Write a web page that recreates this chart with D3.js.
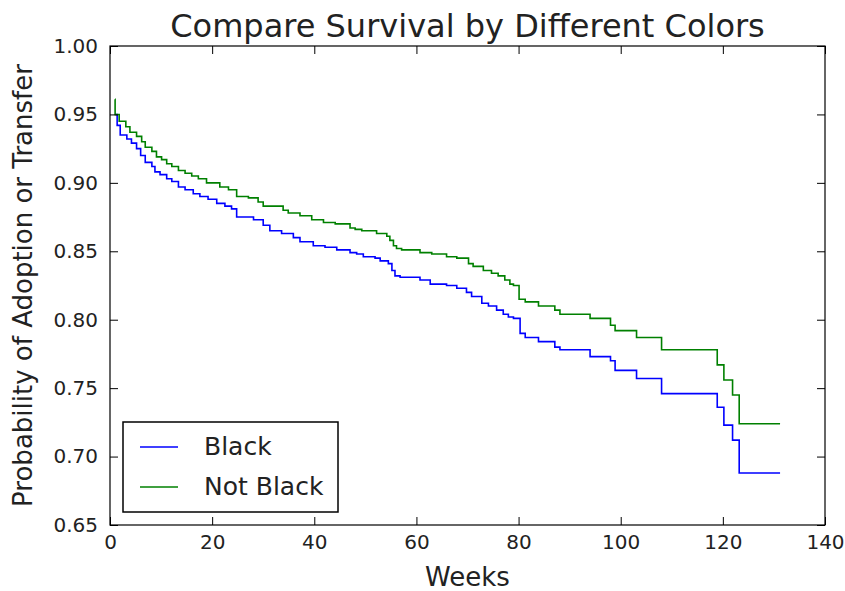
<!DOCTYPE html>
<html>
<head>
<meta charset="utf-8">
<script src="https://cdn.jsdelivr.net/npm/d3@7"></script>
<style>
  body { margin: 0; background: #fff; }
  svg { display: block; font-family: "DejaVu Sans", sans-serif; }
</style>
</head>
<body>
<div id="chart"></div>
<script>
// survival curves (weeks, probability)
var blackWeeks = [1.0, 1.4, 2.0, 3.3, 4.2, 5.2, 6.0, 6.9, 8.2, 8.8, 9.8, 11.1, 12.1, 13.4, 14.7, 16.3, 17.6, 19.2, 20.9, 22.5, 23.8, 24.8, 28.1, 30.0, 31.3, 33.6, 35.9, 37.2, 39.8, 42.1, 44.4, 47.0, 48.3, 49.6, 51.9, 52.9, 54.5, 55.2, 55.8, 56.8, 60.7, 62.7, 65.9, 67.9, 69.8, 70.8, 72.8, 74.1, 75.7, 77.0, 78.0, 79.0, 80.3, 81.3, 83.9, 87.1, 88.1, 94.0, 98.0, 98.9, 103.1, 108.0, 118.9, 120.2, 121.9, 123.2, 131.2];
var blackSurv  = [0.950, 0.942, 0.935, 0.932, 0.929, 0.925, 0.920, 0.915, 0.912, 0.908, 0.906, 0.903, 0.901, 0.897, 0.895, 0.892, 0.890, 0.888, 0.885, 0.883, 0.881, 0.875, 0.873, 0.869, 0.865, 0.863, 0.860, 0.857, 0.854, 0.853, 0.851, 0.849, 0.848, 0.846, 0.845, 0.843, 0.841, 0.836, 0.832, 0.831, 0.829, 0.826, 0.825, 0.823, 0.820, 0.817, 0.812, 0.810, 0.807, 0.804, 0.802, 0.801, 0.790, 0.787, 0.784, 0.780, 0.778, 0.773, 0.770, 0.763, 0.757, 0.746, 0.736, 0.723, 0.712, 0.688, 0.688];

var notBlackWeeks = [0.98, 1.0, 1.8, 3.1, 3.9, 5.2, 6.2, 6.9, 8.2, 9.1, 10.1, 11.1, 12.1, 13.4, 14.7, 16.0, 17.3, 18.9, 21.5, 23.2, 24.8, 27.1, 29.0, 30.0, 33.9, 34.9, 37.2, 39.5, 41.8, 44.1, 47.0, 48.0, 49.3, 52.2, 54.2, 54.8, 55.5, 56.1, 57.1, 60.7, 63.0, 65.9, 67.9, 70.2, 71.1, 73.1, 74.7, 76.0, 77.3, 78.3, 79.0, 80.1, 81.3, 83.9, 87.1, 88.1, 94.0, 98.0, 98.9, 103.1, 108.0, 118.9, 120.2, 121.9, 123.2, 131.2];
var notBlackSurv  = [0.961, 0.950, 0.945, 0.941, 0.937, 0.934, 0.930, 0.926, 0.923, 0.919, 0.917, 0.914, 0.912, 0.909, 0.907, 0.905, 0.903, 0.900, 0.897, 0.895, 0.890, 0.889, 0.886, 0.883, 0.880, 0.878, 0.876, 0.873, 0.871, 0.870, 0.867, 0.866, 0.865, 0.863, 0.861, 0.858, 0.854, 0.852, 0.851, 0.849, 0.848, 0.846, 0.845, 0.841, 0.839, 0.836, 0.834, 0.832, 0.829, 0.826, 0.825, 0.815, 0.813, 0.810, 0.807, 0.804, 0.801, 0.796, 0.792, 0.787, 0.778, 0.767, 0.756, 0.745, 0.724, 0.724];

var seriesNames = ["Black", "Not Black"];
var seriesColors = ["#0000ff", "#008000"];
var xTicks = [0, 20, 40, 60, 80, 100, 120, 140];
var yTicks = [0.65, 0.70, 0.75, 0.80, 0.85, 0.90, 0.95, 1.00];

var width = 845, height = 591;
var margin = {top: 46, right: 20, bottom: 66, left: 110};

var svg = d3.select("#chart").append("svg")
  .attr("width", width).attr("height", height);

var x = d3.scaleLinear().domain([0, 140]).range([margin.left, width - margin.right]);
var y = d3.scaleLinear().domain([0.65, 1.00]).range([height - margin.bottom, margin.top]);

//courbes en escalier
function toPoints(w, s) { return w.map(function(d, i) { return [d, s[i]]; }); }
var series = [toPoints(blackWeeks, blackSurv), toPoints(notBlackWeeks, notBlackSurv)];

var line = d3.line()
  .x(function(d) { return x(d[0]); })
  .y(function(d) { return y(d[1]); })
  .curve(d3.curveStepAfter);

var plot = svg.append("g");
series.forEach(function(pts, i) {
  plot.append("path")
    .attr("d", line(pts))
    .attr("fill", "none")
    .attr("stroke", seriesColors[i])
    .attr("stroke-width", 1.6);
});

// axes with inward ticks on all four sides
var fmt = d3.format(".2f");
var tickLen = 8;
svg.append("g")
  .attr("transform", "translate(0," + y.range()[0] + ")")
  .call(d3.axisBottom(x).tickValues(xTicks).tickSizeInner(-tickLen).tickSizeOuter(0).tickPadding(10).tickFormat(d3.format("d")));
svg.append("g")
  .attr("transform", "translate(" + x.range()[0] + ",0)")
  .call(d3.axisLeft(y).tickValues(yTicks).tickSizeInner(-tickLen).tickSizeOuter(0).tickPadding(12).tickFormat(fmt));
svg.append("g")
  .attr("transform", "translate(0," + y.range()[1] + ")")
  .call(d3.axisTop(x).tickValues(xTicks).tickSizeInner(-tickLen).tickSizeOuter(0).tickFormat(""));
svg.append("g")
  .attr("transform", "translate(" + x.range()[1] + ",0)")
  .call(d3.axisRight(y).tickValues(yTicks).tickSizeInner(-tickLen).tickSizeOuter(0).tickFormat(""));

svg.selectAll(".domain").remove();
svg.selectAll(".tick line").attr("stroke", "#000").attr("stroke-width", 1);
svg.selectAll(".tick text").attr("font-family", "DejaVu Sans").attr("font-size", 20).attr("fill", "#222");

svg.append("rect")
  .attr("x", x.range()[0]).attr("y", y.range()[1])
  .attr("width", x.range()[1] - x.range()[0])
  .attr("height", y.range()[0] - y.range()[1])
  .attr("fill", "none").attr("stroke", "#000").attr("stroke-width", 1.2);

// titre et labels
svg.append("text")
  .attr("x", (x.range()[0] + x.range()[1]) / 2).attr("y", 37)
  .attr("text-anchor", "middle").attr("font-size", 32).attr("fill", "#222")
  .text("Compare Survival by Different Colors");
svg.append("text")
  .attr("x", (x.range()[0] + x.range()[1]) / 2).attr("y", 586)
  .attr("text-anchor", "middle").attr("font-size", 26).attr("fill", "#222")
  .text("Weeks");
svg.append("text")
  .attr("transform", "translate(32," + ((y.range()[0] + y.range()[1]) / 2) + ") rotate(-90)")
  .attr("text-anchor", "middle").attr("font-size", 26).attr("fill", "#222")
  .text("Probability of Adoption or Transfer");

// legende
var legend = svg.append("g");
legend.append("rect")
  .attr("x", 123).attr("y", 422).attr("width", 215).attr("height", 90)
  .attr("fill", "#fff").attr("stroke", "#000").attr("stroke-width", 1.5);
seriesNames.forEach(function(name, i) {
  var ly = 447 + i * 40;
  legend.append("line")
    .attr("x1", 140).attr("x2", 178).attr("y1", ly).attr("y2", ly)
    .attr("stroke", seriesColors[i]).attr("stroke-width", 1.6);
  legend.append("text")
    .attr("x", 204).attr("y", ly + 8)
    .attr("font-size", 25).attr("fill", "#222")
    .text(name);
});
</script>
</body>
</html>
